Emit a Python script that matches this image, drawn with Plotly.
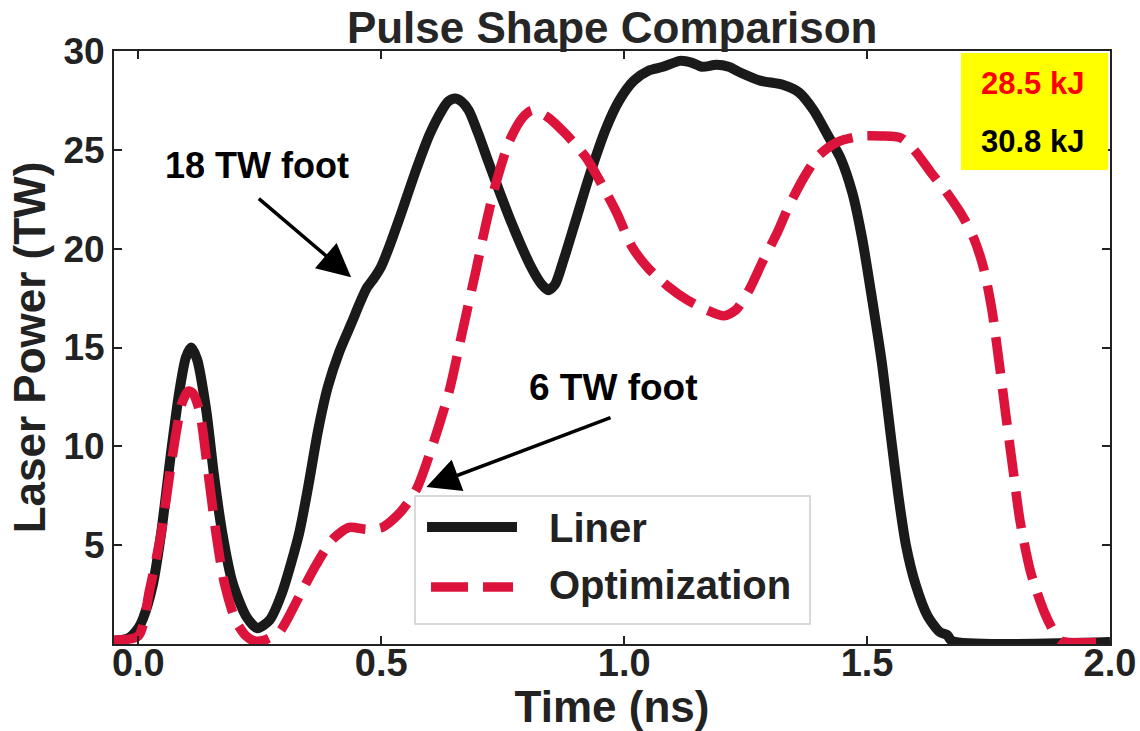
import plotly.graph_objects as go

# ---- data ----
liner_t = [-0.05, -0.02, 0.0, 0.01, 0.03, 0.047, 0.068, 0.084, 0.098, 0.109, 0.121, 0.14, 0.156,
           0.173, 0.194, 0.222, 0.245, 0.27, 0.296, 0.331, 0.35, 0.37, 0.39, 0.414, 0.44, 0.455,
           0.47, 0.485, 0.50, 0.515, 0.537, 0.572, 0.60, 0.625, 0.638, 0.652, 0.665, 0.68, 0.70,
           0.722, 0.77, 0.81, 0.83, 0.844, 0.858, 0.875, 0.90, 0.93, 0.963, 0.99, 1.02, 1.05,
           1.08, 1.115, 1.14, 1.16, 1.19, 1.215, 1.24, 1.28, 1.325, 1.36, 1.39, 1.42, 1.445,
           1.47, 1.49, 1.51, 1.53, 1.55, 1.565, 1.58, 1.60, 1.625, 1.65, 1.665, 1.675, 2.0]
liner_p = [0.15, 0.3, 0.8, 1.3, 3.0, 5.6, 9.8, 12.7, 14.5, 15.0, 14.4, 11.8, 8.5,
           5.6, 3.1, 1.4, 0.8, 1.2, 2.6, 5.6, 8.0, 10.8, 13.0, 14.8, 16.3, 17.2,
           18.0, 18.5, 19.1, 20.0, 21.5, 24.0, 25.8, 27.0, 27.45, 27.6, 27.45, 27.0, 25.8,
           24.3, 21.2, 19.0, 18.2, 17.9, 18.2, 19.4, 21.4, 23.8, 26.1, 27.5, 28.5, 29.0,
           29.2, 29.5, 29.4, 29.2, 29.3, 29.2, 28.9, 28.5, 28.3, 27.9, 27.0, 25.7, 24.6,
           22.8, 20.5, 17.5, 14.3, 10.3, 7.4, 5.0, 3.0, 1.4, 0.6, 0.45, 0.15, 0.1]

opt_t = [-0.05, 0.0, 0.023, 0.047, 0.064, 0.078, 0.09, 0.103, 0.112, 0.126, 0.142, 0.16, 0.177,
         0.20, 0.222, 0.24, 0.26, 0.29, 0.31, 0.331, 0.366, 0.40, 0.434, 0.47, 0.502, 0.537,
         0.572, 0.605, 0.64, 0.667, 0.695, 0.716, 0.737, 0.763, 0.79, 0.81, 0.84, 0.88, 0.922,
         0.955, 0.985, 1.016, 1.05, 1.09, 1.13, 1.17, 1.205, 1.23, 1.257, 1.284, 1.313, 1.34,
         1.37, 1.40, 1.44, 1.49, 1.53, 1.57, 1.60, 1.63, 1.665, 1.70, 1.72, 1.74, 1.757, 1.772,
         1.786, 1.80, 1.815, 1.837, 1.865, 1.885, 1.90, 2.0]
opt_p = [0.2, 0.4, 2.7, 5.6, 8.5, 10.7, 12.2, 12.8, 12.7, 11.8, 9.0, 5.6, 3.1,
         1.2, 0.4, 0.15, 0.2, 0.6, 1.4, 2.4, 4.0, 5.3, 5.9, 5.8, 5.9, 6.6,
         7.8, 10.0, 12.8, 15.8, 18.9, 21.3, 23.4, 25.4, 26.6, 27.0, 26.7, 25.8, 24.6,
         23.2, 21.8, 20.1, 19.0, 18.1, 17.4, 16.9, 16.6, 16.9, 17.9, 19.3, 20.7, 22.2,
         23.6, 24.7, 25.4, 25.7, 25.7, 25.6, 24.9, 23.9, 22.8, 21.5, 20.5, 19.0, 16.9, 14.2,
         11.5, 8.9, 6.2, 3.6, 1.6, 0.6, 0.15, 0.1]

series_names = ["Liner", "Optimization"]
energy_labels = ["28.5 kJ", "30.8 kJ"]
x_ticks = [0.0, 0.5, 1.0, 1.5, 2.0]
y_ticks = [5, 10, 15, 20, 25, 30]

BLACK = "#1a1a1a"
RED = "#DC143C"
FONT = "Liberation Sans, Arial, sans-serif"

fig = go.Figure()
fig.add_trace(go.Scatter(x=liner_t, y=liner_p, mode="lines", name=series_names[0],
                         line=dict(color=BLACK, width=10, shape="spline", smoothing=0.7),
                         showlegend=False))
fig.add_trace(go.Scatter(x=opt_t, y=opt_p, mode="lines", name=series_names[1],
                         line=dict(color=RED, width=9.5, dash="37px,15px", shape="spline", smoothing=0.7),
                         showlegend=False))

# legend drawn as a box with long line samples
shapes = [
    dict(type="rect", xref="paper", yref="paper", x0=0.3022, x1=0.6988, y0=0.0337, y1=0.2496,
         fillcolor="white", line=dict(color="#cccccc", width=1.5), layer="above"),
    dict(type="line", xref="paper", yref="paper", x0=0.3143, x1=0.4046, y0=0.1973, y1=0.1973,
         line=dict(color=BLACK, width=10), layer="above"),
    dict(type="line", xref="paper", yref="paper", x0=0.3183, x1=0.4006, y0=0.0961, y1=0.0961,
         line=dict(color=RED, width=9.5, dash="37px,15px"), layer="above"),
    dict(type="rect", xref="paper", yref="paper", x0=0.8504, x1=0.998, y0=0.7993, y1=0.9966,
         fillcolor="#ffff00", line=dict(width=0), layer="above"),
]

annotations = [
    dict(text=series_names[0], xref="paper", yref="paper", x=0.4347, y=0.1956,
         xanchor="left", yanchor="middle", showarrow=False,
         font=dict(family=FONT, size=40, color="#222222", weight="bold")),
    dict(text=series_names[1], xref="paper", yref="paper", x=0.4347, y=0.0995,
         xanchor="left", yanchor="middle", showarrow=False,
         font=dict(family=FONT, size=40, color="#222222", weight="bold")),
    dict(text=energy_labels[0], xref="paper", yref="paper", x=0.9217, y=0.9444,
         xanchor="center", yanchor="middle", showarrow=False,
         font=dict(family=FONT, size=31, color="#ff0000", weight="bold")),
    dict(text=energy_labels[1], xref="paper", yref="paper", x=0.9217, y=0.8482,
         xanchor="center", yanchor="middle", showarrow=False,
         font=dict(family=FONT, size=31, color="#000000", weight="bold")),
    dict(text="18 TW foot", x=0.245, y=24.23, xanchor="center", yanchor="middle",
         showarrow=False, font=dict(family=FONT, size=36, color="black", weight="bold")),
    dict(text="6 TW foot", x=0.979, y=13.0, xanchor="center", yanchor="middle",
         showarrow=False, font=dict(family=FONT, size=37, color="black", weight="bold")),
    dict(text="", x=0.438, y=18.56, ax=0.245, ay=22.6, axref="x", ayref="y",
         showarrow=True, arrowhead=2, arrowsize=1.9, arrowwidth=3.5, arrowcolor="black"),
    dict(text="", x=0.593, y=7.94, ax=0.975, ay=11.48, axref="x", ayref="y",
         showarrow=True, arrowhead=2, arrowsize=1.9, arrowwidth=3.5, arrowcolor="black"),
]

fig.update_layout(
    width=1140, height=731,
    margin=dict(l=114, r=30, t=51, b=87, autoexpand=False),
    paper_bgcolor="white", plot_bgcolor="white",
    title=dict(text="Pulse Shape Comparison", x=0.537, xanchor="center", y=0.962, yanchor="middle",
               font=dict(family=FONT, size=44, color="#262626", weight="bold")),
    shapes=shapes, annotations=annotations,
    showlegend=False,
)
fig.update_xaxes(range=[-0.05, 2.0], tickvals=x_ticks, ticktext=[f"{v:.1f}" for v in x_ticks],
                 ticks="inside", ticklen=8, tickwidth=1.5, tickcolor="#222",
                 showline=True, linecolor="#222", linewidth=2, mirror="ticks",
                 showgrid=False, zeroline=False, automargin=False, ticklabelstandoff=-16,
                 tickfont=dict(family=FONT, size=38, color="#222", weight="bold"),
                 title=dict(text="Time (ns)", standoff=6,
                            font=dict(family=FONT, size=44, color="#222", weight="bold")))
fig.update_yaxes(range=[0, 30], tickvals=y_ticks, ticktext=[str(v) for v in y_ticks],
                 ticks="inside", ticklen=8, tickwidth=1.5, tickcolor="#222",
                 showline=True, linecolor="#222", linewidth=2, mirror="ticks",
                 showgrid=False, zeroline=False, automargin=False,
                 tickfont=dict(family=FONT, size=37, color="#222", weight="bold"),
                 title=dict(text="Laser Power (TW)", standoff=4,
                            font=dict(family=FONT, size=44, color="#222", weight="bold")))

fig.write_html("out.html")
